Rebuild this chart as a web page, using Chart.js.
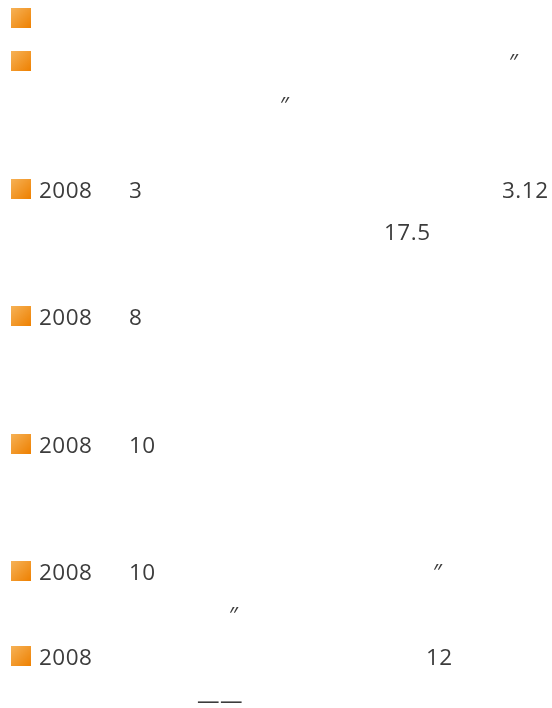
<!DOCTYPE html>
<html>
<head>
<meta charset="utf-8">
<script src="https://cdn.jsdelivr.net/npm/chart.js@4/dist/chart.umd.min.js"></script>
<style>
  html, body { margin: 0; padding: 0; background: #ffffff; }
  #wrap { width: 552px; height: 708px; }
</style>
</head>
<body>
<div id="wrap"><canvas id="c" width="552" height="708"></canvas></div>
<script>
// ---- data (visible fragments of each list item) ----
const bulletLines = [0, 1, 4, 7, 10, 13, 15];
const yearLabels  = ['', '', '2008', '2008', '2008', '2008', '2008'];
const monthLabels = ['', '', '3', '8', '10', '10', ''];
const extraLines  = [1, 2, 4, 5, 13, 14, 15, 16];
const extraCols   = [509, 280, 502, 384, 433, 229, 426, 197];
const extraTexts  = ['\u2033', '\u2033', '3.12', '17.5', '\u2033', '\u2033', '12', '\u2014\u2014'];

const BULLET_COL = 21, YEAR_COL = 39, MONTH_COL = 129;

// gradient square bullet
function makeBullet() {
  const s = 20;
  const cv = document.createElement('canvas');
  cv.width = s; cv.height = s;
  const g = cv.getContext('2d');
  const gr = g.createLinearGradient(0, 0, s, s);
  gr.addColorStop(0, '#F6B257');
  gr.addColorStop(1, '#EE8000');
  g.fillStyle = gr;
  g.fillRect(0, 0, s, s);
  return cv;
}

const FS = 22.5;
const textColor = '#3c3c3c';

const textPlugin = {
  id: 'listText',
  afterDatasetsDraw(chart) {
    const ctx = chart.ctx;
    const xs = chart.scales.x, ys = chart.scales.y;
    ctx.save();
    ctx.fillStyle = textColor;
    ctx.font = FS + 'px "Open Sans", "DejaVu Sans", sans-serif';
    ctx.textAlign = 'left';
    ctx.textBaseline = 'alphabetic';
    try { ctx.letterSpacing = '0.5px'; } catch (e) {}
    const off = FS * 0.357;
    bulletLines.forEach((ln, i) => {
      const y = ys.getPixelForValue(ln) + off;
      if (yearLabels[i]) ctx.fillText(yearLabels[i], xs.getPixelForValue(YEAR_COL), y);
      if (monthLabels[i]) ctx.fillText(monthLabels[i], xs.getPixelForValue(MONTH_COL), y);
    });
    extraLines.forEach((ln, i) => {
      const y = ys.getPixelForValue(ln) + off;
      ctx.fillText(extraTexts[i], xs.getPixelForValue(extraCols[i]), y);
    });
    ctx.restore();
  }
};

const PX_PER_LINE = 42.53, FIRST_LINE_PX = 19.5, H = 708, W = 552;
const yMin = -FIRST_LINE_PX / PX_PER_LINE;
const yMax = yMin + H / PX_PER_LINE;

new Chart(document.getElementById('c'), {
  type: 'scatter',
  data: {
    datasets: [{
      label: 'items',
      data: bulletLines.map(l => ({ x: BULLET_COL, y: l - 0.025 })),
      pointStyle: makeBullet(),
      pointRadius: 10,
      pointHoverRadius: 10,
      showLine: false,
      clip: false
    }]
  },
  options: {
    responsive: false,
    animation: false,
    events: [],
    layout: { padding: 0, autoPadding: false },
    plugins: { legend: { display: false }, tooltip: { enabled: false } },
    scales: {
      x: { type: 'linear', min: 0, max: W, display: false },
      y: { type: 'linear', min: yMin, max: yMax, reverse: true, display: false }
    }
  },
  plugins: [textPlugin]
});
</script>
</body>
</html>
